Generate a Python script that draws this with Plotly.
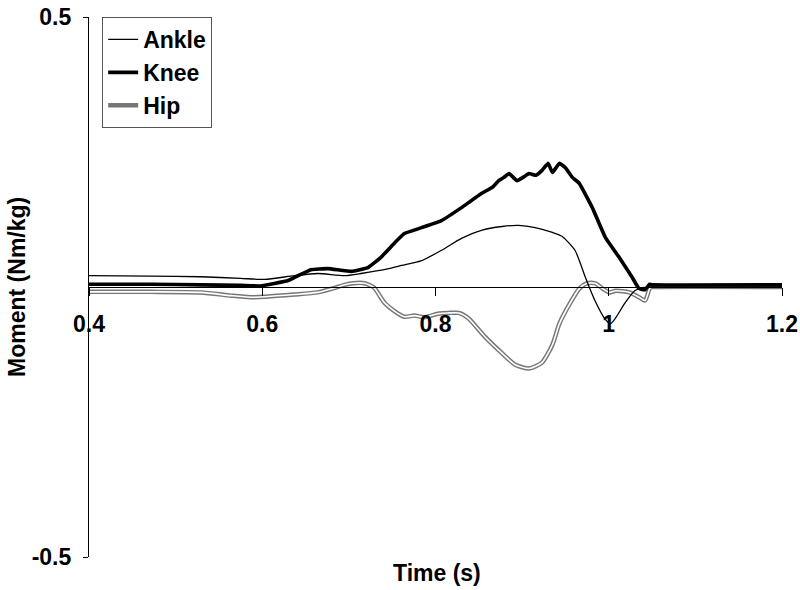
import plotly.graph_objects as go

# time (s) and joint moment (Nm/kg)
ankle_t = [0.4, 0.471, 0.529, 0.575, 0.603, 0.637, 0.664, 0.695, 0.714, 0.746, 0.761,
           0.784, 0.807, 0.830, 0.853, 0.877, 0.896, 0.915, 0.935, 0.946, 0.961, 0.973,
           0.984, 0.996, 1.002, 1.008, 1.019, 1.030, 1.039, 1.050, 1.2]
ankle_m = [0.021, 0.020, 0.019, 0.016, 0.014, 0.021, 0.025, 0.021, 0.025, 0.034, 0.040,
           0.049, 0.068, 0.090, 0.105, 0.112, 0.114, 0.110, 0.101, 0.094, 0.068, 0.018,
           -0.025, -0.060, -0.068, -0.057, -0.029, -0.007, -0.001, 0.0, 0.0]

knee_t = [0.4, 0.471, 0.529, 0.575, 0.598, 0.630, 0.656, 0.676, 0.703, 0.722, 0.737,
          0.753, 0.764, 0.784, 0.807, 0.830, 0.853, 0.866, 0.873, 0.879, 0.885, 0.894,
          0.901, 0.908, 0.916, 0.923, 0.930, 0.935, 0.943, 0.950, 0.958, 0.966, 0.981,
          0.996, 1.012, 1.027, 1.035, 1.042, 1.047, 1.050, 1.2]
knee_m = [0.005, 0.005, 0.004, 0.003, 0.002, 0.012, 0.032, 0.034, 0.029, 0.036, 0.055,
          0.082, 0.099, 0.110, 0.123, 0.147, 0.173, 0.185, 0.197, 0.203, 0.210, 0.197,
          0.203, 0.210, 0.207, 0.216, 0.229, 0.212, 0.229, 0.221, 0.203, 0.192, 0.147,
          0.092, 0.055, 0.018, -0.003, -0.005, 0.005, 0.004, 0.004]

hip_t = [0.4, 0.471, 0.529, 0.564, 0.586, 0.604, 0.637, 0.664, 0.683, 0.695, 0.705,
         0.718, 0.729, 0.741, 0.753, 0.764, 0.776, 0.787, 0.804, 0.815, 0.827, 0.838,
         0.857, 0.877, 0.892, 0.908, 0.923, 0.935, 0.943, 0.955, 0.966, 0.975, 0.984,
         0.993, 1.001, 1.008, 1.024, 1.035, 1.042, 1.048, 1.056, 1.2]
hip_m = [-0.009, -0.009, -0.010, -0.016, -0.019, -0.018, -0.014, -0.010, -0.002, 0.004,
         0.007, 0.007, -0.001, -0.029, -0.045, -0.055, -0.053, -0.056, -0.049, -0.048,
         -0.048, -0.058, -0.092, -0.123, -0.144, -0.151, -0.140, -0.107, -0.068, -0.031,
         -0.003, 0.007, 0.007, -0.003, -0.010, -0.007, -0.010, -0.019, -0.025, -0.001,
         0.0, 0.0]

x_ticks = [0.4, 0.6, 0.8, 1.0, 1.2]
x_tick_text = ["0.4", "0.6", "0.8", "1", "1.2"]
y_ticks = [-0.5, 0.5]
y_tick_text = ["-0.5", "0.5"]

FONT = "Liberation Sans, Arial, sans-serif"
bold = dict(family=FONT, size=23, color="black", weight="bold")

fig = go.Figure()

# hip drawn as a double line: grey outline with a white core
fig.add_trace(go.Scatter(x=hip_t, y=hip_m, mode="lines", name="Hip",
                         line=dict(color="#777777", width=4.5, shape="spline", smoothing=0.6),
                         legendgroup="hip", legendrank=3))
fig.add_trace(go.Scatter(x=hip_t, y=hip_m, mode="lines", showlegend=False,
                         line=dict(color="white", width=1.6, shape="spline", smoothing=0.6),
                         legendgroup="hip", hoverinfo="skip"))
fig.add_trace(go.Scatter(x=ankle_t, y=ankle_m, mode="lines", name="Ankle",
                         line=dict(color="black", width=1.3, shape="spline", smoothing=0.6),
                         legendgroup="ankle", legendrank=1))
fig.add_trace(go.Scatter(x=knee_t, y=knee_m, mode="lines", name="Knee",
                         line=dict(color="black", width=3.6, shape="spline", smoothing=0.3),
                         legendgroup="knee", legendrank=2))

fig.update_layout(
    width=800, height=590,
    margin=dict(l=89, r=18, t=17, b=33, autoexpand=False),
    plot_bgcolor="white", paper_bgcolor="white",
    font=bold,
    legend=dict(x=0.019, y=1.0, xanchor="left", yanchor="top",
                bordercolor="#555555", borderwidth=1, bgcolor="white",
                font=bold, itemwidth=30, traceorder="grouped", tracegroupgap=0),
    xaxis=dict(range=[0.4, 1.2], tickvals=x_ticks, ticktext=x_tick_text,
               showgrid=False, zeroline=False, showline=True, linecolor="black",
               linewidth=1.2, ticks="outside", ticklen=8, tickcolor="black",
               anchor="free", position=0.5, ticklabelstandoff=8,
               ticklabeloverflow="allow", tickfont=bold, automargin=False),
    yaxis=dict(range=[-0.5, 0.5], tickvals=y_ticks, ticktext=y_tick_text,
               showgrid=False, zeroline=False, showline=True, linecolor="black",
               linewidth=1.2, ticks="outside", ticklen=5, tickcolor="black",
               ticklabelstandoff=7, ticklabeloverflow="allow", tickfont=bold,
               automargin=False),
    annotations=[
        dict(text="Time (s)", xref="paper", yref="paper", x=0.502, y=-0.03,
             xanchor="center", yanchor="middle", showarrow=False, font=bold),
        dict(text="Moment (Nm/kg)", xref="paper", yref="paper", x=-0.104, y=0.5,
             xanchor="center", yanchor="middle", textangle=-90, showarrow=False,
             font=bold),
    ],
)

# drop the default body margin so the 800x590 figure fills the window exactly
fig.write_html("out.html", config={"displayModeBar": False},
               post_script="document.body.style.margin = '0';")
